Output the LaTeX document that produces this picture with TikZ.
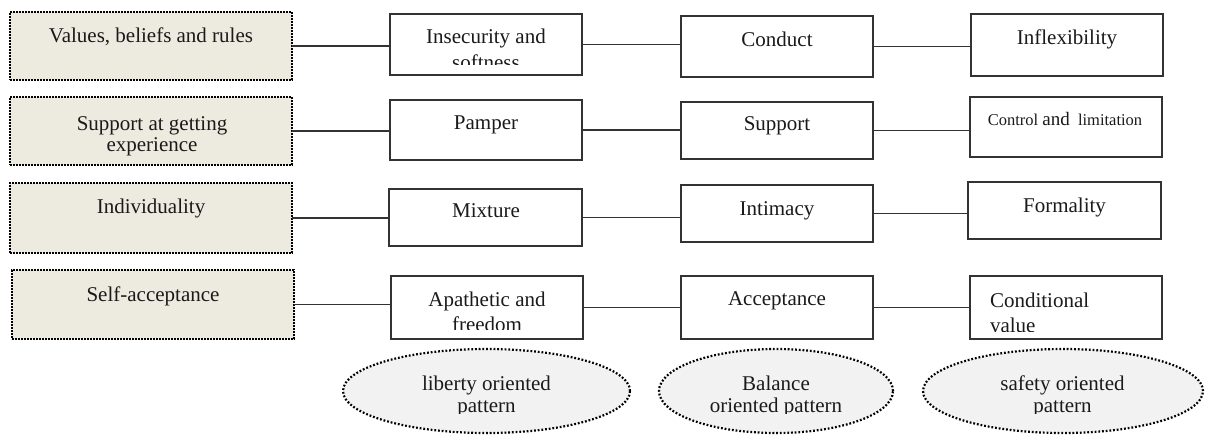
\documentclass[tikz,border=0pt]{standalone}
\usepackage{fontspec}
\setmainfont{Liberation Serif}
\usetikzlibrary{shapes.geometric}
\definecolor{beige}{HTML}{EDEAE0}
\definecolor{ellgray}{HTML}{F2F2F2}
\definecolor{inkc}{HTML}{1A1A1A}
\begin{document}
\begin{tikzpicture}[x=1pt,y=-1pt,
  txt/.style={inner sep=0pt,outer sep=0pt,text=inkc,font=\fontsize{21}{23}\selectfont,anchor=base},
  leftbox/.style={rectangle,draw=black,fill=beige,line width=2.2pt,dash pattern=on 1.6pt off 1.4pt,inner sep=0pt,outer sep=0pt},
  plainbox/.style={rectangle,draw=black!80,line width=1.1pt,fill=white,inner sep=0pt,outer sep=0pt,minimum width=192pt},
  pattell/.style={ellipse,draw=black,fill=ellgray,line width=2.2pt,dash pattern=on 1.8pt off 1.9pt,inner sep=0pt,outer sep=0pt,minimum height=84pt},
  link/.style={draw=black!80,line width=1.1pt}]
\useasboundingbox (0,0) rectangle (1209,434);
% left boxes
\node[leftbox,minimum width=282pt,minimum height=68pt] (L1) at (151,46) {};
\node[leftbox,minimum width=282pt,minimum height=68pt] (L2) at (151,131) {};
\node[leftbox,minimum width=282pt,minimum height=70pt] (L3) at (151,218) {};
\node[leftbox,minimum width=282pt,minimum height=69pt] (L4) at (153,304.5) {};
% middle boxes
\node[plainbox,minimum height=61pt] (M1) at (486,44.5) {};
\node[plainbox,minimum height=60pt] (M2) at (486,130) {};
\node[plainbox,minimum width=193pt,minimum height=57pt] (M3) at (485.5,217.5) {};
\node[plainbox,minimum height=63pt] (M4) at (487,307.5) {};
% centre boxes
\node[plainbox,minimum height=61pt] (C1) at (777,46.5) {};
\node[plainbox,minimum height=57pt] (C2) at (777,130.5) {};
\node[plainbox,minimum height=57pt] (C3) at (777,213.5) {};
\node[plainbox,minimum height=63pt] (C4) at (777,307.5) {};
% right boxes
\node[plainbox,minimum height=62pt] (R1) at (1067,45) {};
\node[plainbox,minimum height=60pt] (R2) at (1066,127) {};
\node[plainbox,minimum width=193pt,minimum height=57pt] (R3) at (1064.5,210.5) {};
\node[plainbox,minimum height=63pt] (R4) at (1066,307.5) {};
% ellipses
\node[pattell,minimum width=287pt] (E1) at (486.5,391) {};
\node[pattell,minimum width=234pt] (E2) at (776,391) {};
\node[pattell,minimum width=280pt] (E3) at (1063,391) {};
% connectors
\foreach \r in {1,2,3,4}{
  \draw[link] (L\r.east) -- (L\r.east -| M\r.west);
  \draw[link] (M\r.east) -- (M\r.east -| C\r.west);
  \draw[link] (C\r.east) -- (C\r.east -| R\r.west);
}
% left texts
\node[txt] (tL1) at (151,42) {Values, beliefs and rules};
\node[txt] (tL2a) at (152,130) {Support at getting};
\node[txt] (tL2b) at (152,151) {experience};
\node[txt] (tL3) at (151,213) {Individuality};
\node[txt] (tL4) at (153,301) {Self-acceptance};
% middle texts
\node[txt] (tM1a) at (486,43) {Insecurity and};
\begin{scope}
  \clip (390,14) rectangle (582,64);
  \node[txt] (tM1b) at (486,69) {softness};
\end{scope}
\node[txt] (tM2) at (486,129) {Pamper};
\node[txt] (tM3) at (486,217) {Mixture};
\node[txt] (tM4a) at (487,306) {Apathetic and};
\begin{scope}
  \clip (391,276) rectangle (583,329);
  \node[txt] (tM4b) at (487,331) {freedom};
\end{scope}
% centre texts
\node[txt] (tC1) at (777,46) {Conduct};
\node[txt] (tC2) at (777,130) {Support};
\node[txt] (tC3) at (777,215) {Intimacy};
\node[txt] (tC4) at (777,305) {Acceptance};
% right texts
\node[txt] (tR1) at (1067,44) {Inflexibility};
\node[txt,font=\fontsize{16.5}{18}\selectfont] (tR2) at (1065,125) {Control {\fontsize{19}{20}\selectfont and}\ \ limitation};
\node[txt] (tR3) at (1064.5,212) {Formality};
\node[txt,anchor=base west] (tR4a) at (990,307) {Conditional};
\begin{scope}
  \clip (970,276) rectangle (1162,331);
  \node[txt,anchor=base west] (tR4b) at (990,332) {value};
\end{scope}
% ellipse texts
\node[txt] (tE1a) at (486.5,390) {liberty oriented};
\node[txt] (tE2a) at (776,390) {Balance};
\node[txt] (tE3a) at (1062.5,390) {safety oriented};
\begin{scope}
  \clip (300,395) rectangle (1209,413);
  \node[txt] (tE1b) at (486.5,412) {pattern};
  \node[txt] (tE2b) at (776,412) {oriented pattern};
  \node[txt] (tE3b) at (1062.5,412) {pattern};
\end{scope}
\end{tikzpicture}
\end{document}
